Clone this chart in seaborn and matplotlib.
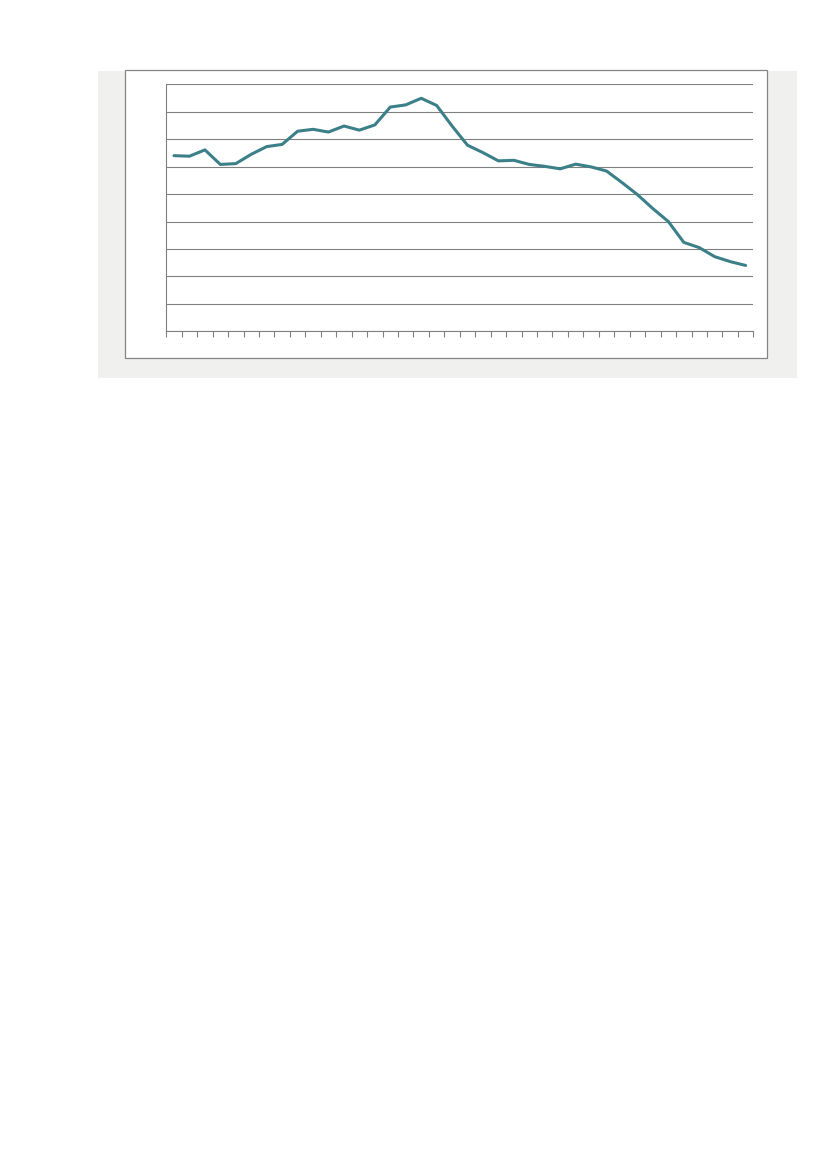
import numpy as np
import matplotlib
matplotlib.use("Agg")
import matplotlib.pyplot as plt
import seaborn as sns
from matplotlib.patches import Rectangle

# period index (no labels are shown on the chart) and the series values
periods = list(range(38))
values = [
    6.40, 6.38, 6.61, 6.08, 6.11, 6.45, 6.73, 6.81, 7.29, 7.36,
    7.26, 7.48, 7.33, 7.52, 8.17, 8.25, 8.49, 8.23, 7.48, 6.78,
    6.51, 6.21, 6.23, 6.08, 6.01, 5.92, 6.09, 5.99, 5.84, 5.42,
    4.98, 4.47, 4.00, 3.24, 3.05, 2.72, 2.54, 2.40,
]
y_gridlines = list(range(10))

LINE = "#3b8089"
GRID = "#808080"

sns.set_style("white")
fig = plt.figure(figsize=(8.27, 11.69), dpi=100)

W, H = 827, 1169
# grey panel behind the chart
fig.patches.append(Rectangle((98 / W, 1 - 378 / H), 699 / W, 307 / H,
                             transform=fig.transFigure, facecolor="#f0f0ee",
                             edgecolor="none", zorder=0))
# white framed chart box
fig.patches.append(Rectangle((125.3 / W, 1 - 358 / H), 641.4 / W, 287.7 / H,
                             transform=fig.transFigure, facecolor="white",
                             edgecolor="#858585", linewidth=0.9, zorder=1))

ax = fig.add_axes([166.3 / W, 1 - 331.3 / H, 587 / W, 247 / H])
ax.set_facecolor("none")
ax.set_zorder(2)

sns.lineplot(x=periods, y=values, ax=ax, color=LINE, linewidth=2.2,
             solid_joinstyle="round")

ax.set_xlim(-0.5, len(periods) - 0.5)
ax.set_ylim(0, 9)
ax.set_yticks(y_gridlines)
ax.set_xticks(np.arange(-0.5, len(periods), 1))
ax.set_xticklabels([])
ax.set_yticklabels([])
ax.grid(axis="y", color=GRID, linewidth=0.8)
ax.set_axisbelow(True)
ax.tick_params(axis="x", direction="out", length=4, width=0.8, color=GRID,
               bottom=True)
ax.tick_params(axis="y", length=0)

for side in ["top", "right"]:
    ax.spines[side].set_visible(False)
for side in ["left", "bottom"]:
    ax.spines[side].set_color(GRID)
    ax.spines[side].set_linewidth(0.8)

ax.set_xlabel("")
ax.set_ylabel("")

fig.savefig("out.png", dpi=100)
